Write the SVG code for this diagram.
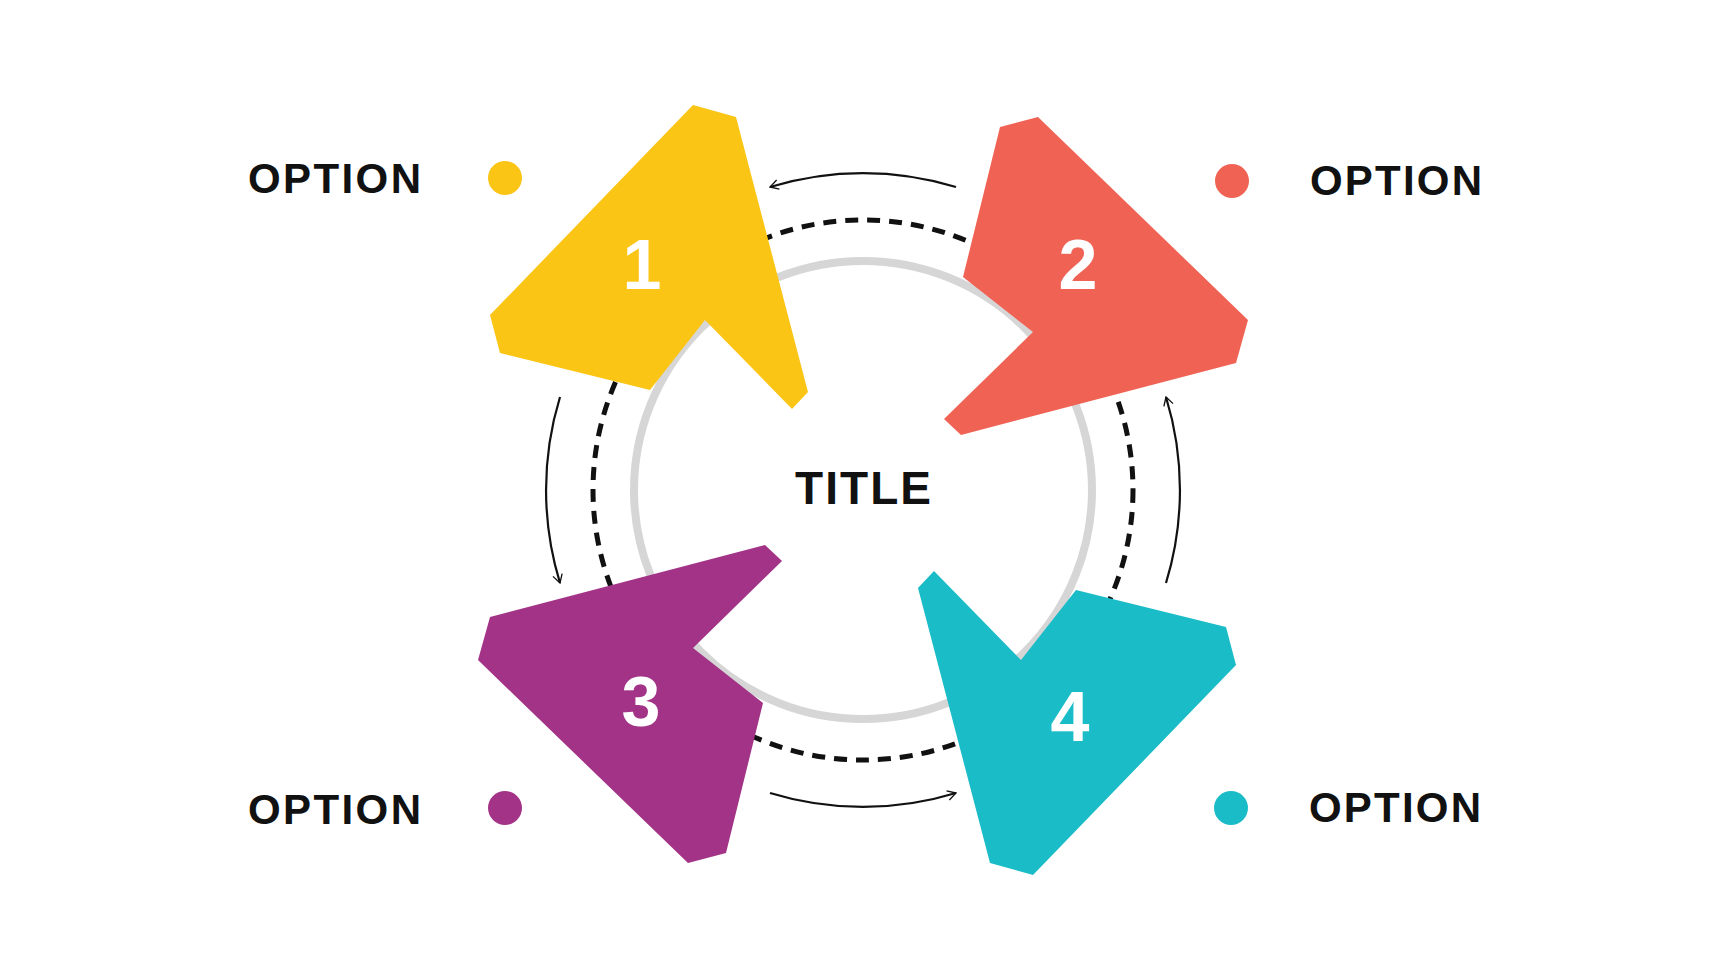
<svg xmlns="http://www.w3.org/2000/svg" width="1728" height="980" viewBox="0 0 1728 980">
<style>
.opt{font-family:"Liberation Sans",Arial,sans-serif;font-weight:bold;font-size:42px;fill:#111}
.num{font-family:"Liberation Sans",Arial,sans-serif;font-weight:bold;font-size:70px;fill:#fff;text-anchor:middle}
.arc{fill:none;stroke:#111;stroke-width:2.2;marker-end:url(#ah)}
</style>
<defs>
<marker id="ah" viewBox="0 0 20 20" refX="18" refY="10" markerWidth="12" markerHeight="12" markerUnits="userSpaceOnUse" orient="auto"><path d="M4,2 L18,10 L4,18" fill="none" stroke="#111" stroke-width="2.2"/></marker>
<polygon id="blade" points="-170,-385 -127,-373 -55,-98 -71,-81 -158,-170 -213,-100 -363,-137 -373,-175"/>
</defs>
<rect width="1728" height="980" fill="#fff"/>
<circle cx="863" cy="490" r="229" fill="none" stroke="#d6d6d6" stroke-width="8"/>
<circle cx="863" cy="490" r="270" fill="none" stroke="#111" stroke-width="5" stroke-dasharray="13 9"/>
<g id="connectors">
<path class="arc" d="M956,187 A317,317 0 0 0 770,187"/>
<path class="arc" d="M560,397 A317,317 0 0 0 560,583"/>
<path class="arc" d="M770,793 A317,317 0 0 0 956,793"/>
<path class="arc" d="M1166,583 A317,317 0 0 0 1166,397"/>
</g>
<g id="node1"><use href="#blade" transform="translate(863,490)" fill="#FBC515"/><text class="num" x="642" y="289">1</text><circle cx="505" cy="178" r="17" fill="#FBC515"/><text class="opt" x="248" y="193" textLength="173">OPTION</text></g>
<g id="node2"><use href="#blade" transform="translate(863,490) rotate(90)" fill="#F06354"/><text class="num" x="1078" y="289">2</text><circle cx="1232" cy="181" r="17" fill="#F06354"/><text class="opt" x="1310" y="195" textLength="172">OPTION</text></g>
<g id="node3"><use href="#blade" transform="translate(863,490) rotate(-90)" fill="#A23387"/><text class="num" x="641" y="726">3</text><circle cx="505" cy="808" r="17" fill="#A23387"/><text class="opt" x="248" y="824" textLength="173">OPTION</text></g>
<g id="node4"><use href="#blade" transform="translate(863,490) rotate(180)" fill="#1ABCC8"/><text class="num" x="1070" y="741">4</text><circle cx="1231" cy="808" r="17" fill="#1ABCC8"/><text class="opt" x="1309" y="822" textLength="172">OPTION</text></g>
<text x="863" y="504" text-anchor="middle" font-family="Liberation Sans,Arial,sans-serif" font-weight="bold" font-size="46" fill="#111" textLength="136">TITLE</text>
</svg>
